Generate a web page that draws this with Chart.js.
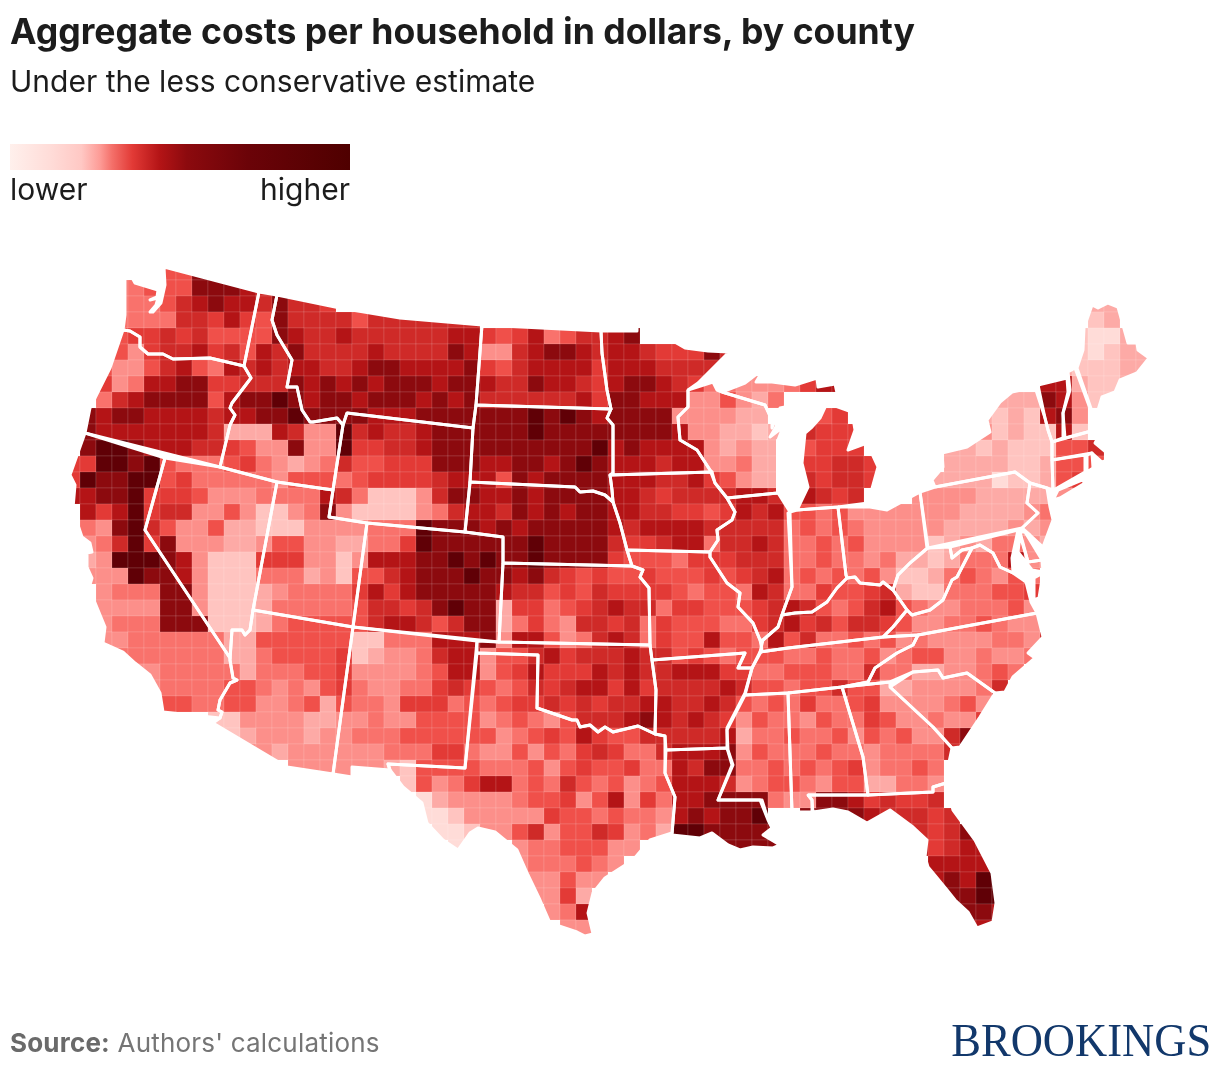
<!DOCTYPE html>
<html lang="en">
<head>
<meta charset="UTF-8">
<title>Aggregate costs per household</title>
<script src="https://cdn.jsdelivr.net/npm/chart.js@4"></script>
<style>
  html, body { margin: 0; padding: 0; background: #fff; }
  #page { position: relative; width: 1220px; height: 1072px; overflow: hidden; font-family: Inter, sans-serif; color: #1c1c1c; }
  #page div { position: absolute; white-space: nowrap; }
  canvas { position: absolute; left: 0; top: 0; }
  #title { left: 10px; top: 10px; font-size: 35.6px; line-height: 44px; font-weight: 700; }
  #subtitle { left: 10px; top: 63px; font-size: 30px; line-height: 36px; }
  #ramp { left: 10px; top: 144px; width: 340px; height: 26px;
    background: linear-gradient(to right, #fff0ec 0%, #ffdcd8 12%, #ffc8c4 21%, #fd9b96 26.5%, #f4706a 30%, #e23a36 36%, #b41416 44%, #8c0a0e 52%, #6b0308 70%, #4f0000 100%); }
  #lower { left: 10px; top: 171px; font-size: 30px; line-height: 36px; }
  #higher { right: 870px; top: 171px; font-size: 30px; line-height: 36px; }
  #source { left: 10px; top: 1026px; font-size: 26px; line-height: 34px; color: #757575; letter-spacing: .2px; }
  #source b { font-weight: 700; color: #6a6a6a; }
  #logo { right: 9px; top: 1012px; font-family: "Liberation Serif", serif; font-size: 47px; line-height: 56px; color: #12386b; transform: scaleX(.948); transform-origin: right; }
</style>
</head>
<body>
<div id="page">
  <canvas id="map" width="1220" height="1072"></canvas>
  <div id="title">Aggregate costs per household in dollars, by county</div>
  <div id="subtitle">Under the less conservative estimate</div>
  <div id="ramp"></div>
  <div id="lower">lower</div>
  <div id="higher">higher</div>
  <div id="source"><b>Source:</b> Authors' calculations</div>
  <div id="logo">BROOKINGS</div>
</div>
<script>
const washington = [125,278, 130,274, 135,283, 158,290, 157,297, 150,300, 158,298, 156,305, 150,312, 153,312, 161,303, 165,285, 164,267, 259,292, 244,366, 210,358, 173,359, 163,354, 148,354, 140,347, 140,337, 130,331, 123,330, 125,315];
const oregon = [123,330, 130,331, 140,337, 140,347, 148,354, 163,354, 173,359, 210,358, 244,366, 251,378, 232,403, 230,408, 235,415, 230,425, 220,467, 85,433, 90,408, 100,388, 110,368];
const california = [85,433, 165,458, 145,530, 230,658, 230,660, 233,678, 237,680, 230,683, 220,700, 218,710, 222,712, 220,718, 163,712, 160,693, 150,675, 135,663, 123,652, 103,643, 105,627, 98,610, 89,588, 92,578, 87,567, 87,553, 92,552, 90,543, 82,537, 77,522, 73,508, 75,485, 70,475];
const nevada = [165,458, 220,467, 277,482, 253,610, 250,630, 245,635, 242,630, 232,630, 230,658, 145,530];
const idaho = [259,292, 277,295, 272,320, 277,335, 292,360, 287,387, 297,387, 302,410, 310,422, 313,422, 337,418, 343,425, 333,490, 277,482, 220,467, 230,425, 235,415, 230,408, 232,403, 251,378, 244,366];
const montana = [277,295, 340,308, 400,318, 482,325, 476,405, 473,428, 347,413, 343,425, 337,418, 313,422, 310,422, 302,410, 297,387, 287,387, 292,360, 277,335, 272,320];
const wyoming = [347,413, 473,428, 470,482, 465,532, 367,523, 329,517, 333,490, 343,425];
const utah = [277,482, 333,490, 329,517, 367,523, 353,627, 253,610];
const colorado = [367,523, 465,532, 503,537, 503,563, 499,642, 353,627];
const arizona = [253,610, 353,627, 333,774, 287,767, 213,723, 220,718, 222,712, 218,710, 220,700, 230,683, 237,680, 233,678, 230,660, 232,630, 242,630, 245,635, 250,630];
const newMexico = [353,627, 477,641, 465,768, 388,764, 390,770, 352,767, 352,777, 333,774];
const texas = [477,653, 538,655, 537,708, 572,720, 577,720, 580,727, 590,725, 598,732, 605,727, 613,732, 638,726, 655,734, 665,736, 665,773, 675,797, 672,833, 650,840, 633,860, 605,878, 593,893, 588,913, 593,934, 585,936, 577,932, 550,923, 540,900, 528,875, 517,850, 495,832, 478,828, 470,833, 458,850, 443,840, 427,823, 422,803, 403,787, 390,770, 388,764, 465,768];
const oklahoma = [477,641, 499,642, 650,645, 652,660, 656,690, 655,734, 638,726, 613,732, 605,727, 598,732, 590,725, 580,727, 577,720, 572,720, 537,708, 538,655, 477,653];
const kansas = [503,563, 632,566, 643,570, 640,577, 649,588, 650,645, 499,642];
const nebraska = [470,482, 575,487, 580,492, 593,491, 605,495, 613,502, 620,523, 627,550, 632,566, 503,563, 503,537, 465,532];
const southDakota = [476,405, 611,409, 607,418, 613,425, 613,473, 610,475, 612,490, 613,502, 605,495, 593,491, 580,492, 575,487, 470,482, 473,428];
const northDakota = [482,325, 601,331, 602,353, 607,390, 611,409, 476,405];
const minnesota = [601,331, 636,331, 637,322, 643,323, 644,337, 660,342, 673,341, 685,348, 708,351, 729,352, 698,383, 688,390, 688,407, 678,417, 680,440, 697,450, 710,470, 712,472, 610,475, 613,473, 613,425, 607,418, 611,409, 607,390, 602,353];
const iowa = [610,475, 712,472, 715,483, 727,498, 735,512, 732,520, 717,530, 718,540, 710,552, 627,550, 620,523, 613,502, 612,490];
const missouri = [627,550, 710,552, 710,557, 727,583, 740,593, 738,607, 753,623, 760,640, 762,650, 752,668, 738,668, 745,653, 652,660, 650,645, 649,588, 640,577, 643,570, 632,566];
const arkansas = [652,660, 745,653, 738,668, 752,668, 745,693, 727,728, 727,748, 666,750, 665,736, 655,734, 656,690];
const louisiana = [666,750, 727,748, 732,765, 718,800, 760,800, 768,820, 772,828, 763,835, 780,845, 773,848, 753,847, 740,850, 728,845, 712,833, 700,838, 672,835, 675,797, 665,773];
const mississippi = [745,695, 788,693, 792,812, 767,816, 762,800, 718,800, 733,765, 728,750, 727,730];
const alabama = [788,693, 842,687, 863,757, 868,795, 808,795, 812,800, 812,812, 792,812];
const tennessee = [760,652, 788,648, 883,637, 918,635, 913,645, 897,653, 875,668, 868,682, 842,687, 788,693, 745,695, 752,668];
const kentucky = [763,640, 778,627, 782,615, 795,613, 812,612, 827,602, 837,588, 847,578, 855,577, 860,583, 880,585, 883,582, 893,590, 907,610, 893,627, 883,637, 788,648, 760,652];
const illinois = [727,498, 778,493, 790,512, 788,513, 792,587, 783,612, 778,627, 763,640, 760,640, 753,623, 738,607, 740,593, 727,583, 710,557, 710,552, 718,540, 717,530, 732,520, 735,512];
const indiana = [790,512, 797,510, 838,507, 846,575, 847,578, 837,588, 827,602, 812,612, 795,613, 782,615, 783,612, 792,587];
const ohio = [838,507, 870,507, 887,510, 920,492, 927,548, 910,563, 898,575, 893,590, 883,582, 880,585, 860,583, 855,577, 847,578, 846,575];
const michiganLower = [827,403, 852,412, 855,430, 848,450, 867,443, 878,467, 868,503, 838,507, 797,510, 808,487, 802,463, 805,433, 812,427, 820,418];
const michiganUpper = [722,392, 745,383, 758,373, 765,367, 756,382, 772,382, 795,385, 817,378, 818,387, 835,384, 837,393, 848,395, 823,398, 795,405, 780,408, 772,428, 772,420, 765,405];
const wisconsin = [688,390, 713,382, 717,390, 722,392, 765,405, 772,420, 777,425, 770,437, 783,427, 778,440, 777,490, 778,493, 727,498, 715,483, 710,470, 697,450, 680,440, 678,417, 688,407];
const georgia = [842,687, 890,682, 890,687, 933,727, 952,748, 948,767, 946,783, 933,787, 933,792, 868,795, 863,757];
const florida = [808,795, 868,795, 933,792, 933,787, 946,783, 953,810, 975,840, 992,873, 996,903, 993,922, 977,928, 968,912, 955,900, 947,890, 933,873, 928,867, 925,857, 927,840, 913,827, 890,810, 867,823, 848,812, 833,809, 813,812, 812,800];
const floridaKeys = [962,945, 973,938, 972,942];
const southCarolina = [890,687, 913,672, 938,670, 943,678, 967,673, 995,693, 980,717, 960,747, 952,748, 933,727];
const northCarolina = [868,682, 875,668, 897,653, 913,645, 918,635, 1037,613, 1043,637, 1028,653, 1035,658, 1013,677, 1005,692, 995,693, 967,673, 943,678, 938,670, 913,672, 890,682, 842,687];
const virginia = [883,637, 893,627, 907,610, 912,615, 930,610, 943,600, 952,580, 957,577, 972,548, 980,545, 993,553, 1000,567, 1013,573, 1026,582, 1031,602, 1037,613, 918,635];
const virginiaShore = [1034,578, 1043,573, 1039,598, 1034,600];
const westVirginia = [928,548, 950,547, 952,558, 962,550, 972,548, 957,577, 952,580, 943,600, 930,610, 912,615, 907,610, 893,590, 898,575, 910,563];
const pennsylvania = [920,492, 935,487, 1015,472, 1030,483, 1027,503, 1038,513, 1022,528, 928,548];
const newYork = [935,487, 932,480, 943,467, 942,453, 967,447, 990,432, 987,420, 1000,402, 1012,392, 1035,387, 1045,418, 1048,430, 1052,442, 1052,460, 1053,490, 1047,488, 1030,483, 1015,472];
const longIsland = [1053,500, 1058,490, 1082,480, 1085,483, 1060,498];
const newJersey = [1030,483, 1047,488, 1050,507, 1053,520, 1043,547, 1030,535, 1022,528, 1038,513, 1027,503];
const delaware = [1020,532, 1025,532, 1042,560, 1028,562];
const marylandWest = [950,547, 1018,530, 1012,558, 1013,573, 1000,567, 993,553, 980,545, 972,548, 962,550, 952,558];
const marylandEast = [1020,535, 1028,562, 1042,560, 1043,572, 1032,570, 1018,552];
const connecticut = [1052,460, 1085,455, 1085,472, 1057,488, 1053,490];
const rhodeIsland = [1087,455, 1092,453, 1093,468, 1087,472];
const massachusetts = [1052,442, 1095,430, 1100,434, 1095,443, 1107,453, 1119,453, 1108,460, 1102,462, 1092,453, 1052,460];
const vermont = [1038,385, 1067,378, 1068,392, 1063,413, 1063,438, 1052,442, 1048,430, 1045,418];
const newHampshire = [1068,372, 1075,368, 1095,422, 1095,430, 1065,438, 1063,413, 1070,390];
const maine = [1077,368, 1083,350, 1084,328, 1092,305, 1098,308, 1108,303, 1118,307, 1128,343, 1137,343, 1138,350, 1149,358, 1137,373, 1120,380, 1115,392, 1102,397, 1095,420];

const stateShapes = [washington, oregon, california, nevada, idaho, montana, wyoming, utah, colorado, arizona, newMexico, texas, oklahoma, kansas, nebraska, southDakota, northDakota, minnesota, iowa, missouri, arkansas, louisiana, mississippi, alabama, tennessee, kentucky, illinois, indiana, ohio, michiganLower, michiganUpper, wisconsin, georgia, florida, floridaKeys, southCarolina, northCarolina, virginia, virginiaShore, westVirginia, pennsylvania, newYork, longIsland, newJersey, delaware, marylandWest, marylandEast, connecticut, rhodeIsland, massachusetts, vermont, newHampshire, maine];

// cost level per map cell (0 lower .. a higher), one string per row
const costLevels = [
  "....  ..55  9...",
  "...4  4555  9998  79..",
  "...4  4457  8988  7977  6...  ....  ....  ....  ....  ....  ....  ....  ....  ....  ....  ....  22..",
  "...4  4447  7686  5977  7757  7777  77..  ....  ....  ....  ....  ....  ....  ....  ....  ....  12..",
  "...5  6676  7555  5987  7877  7777  8865  6845  7789  ....  ....  ....  ....  ....  ....  ...1  002.",
  "...5  3677  8675  8797  7778  7777  9833  7899  8788  7666  97..  ....  ....  ....  ....  ...1  0122",
  "..53  3578  5487  8788  7789  9888  8965  7888  8688  8777  7...  ....  ....  ....  ....  ..21  1122",
  "..63  4889  9667  7798  9898  9998  9987  7988  7689  9876  4433  3468  8...  ....  ....  .882  112.",
  "..47  8999  9589  9a98  9989  9989  8977  7777  8699  8883  3532  4...  ....  ....  ..22  2983  11..",
  ".989  9888  8788  99a9  9998  8899  9999  9a9a  9899  9933  3322  ...5  6...  ....  .212  1893  ....",
  ".988  8888  8722  2873  3a78  7789  9999  9a99  9999  9983  3221  2.76  66..  ....  .312  1181  ....",
  ".9aa  9888  7765  3393  3a66  7789  9999  9999  9a89  8888  3232  2.56  66..  ...2  2121  1155  7...",
  "66aa  9a54  4456  4323  4755  6669  9988  9989  a988  8788  3342  2.66  776.  ...2  2221  1255  5...",
  "6a99  aa56  4444  4355  5456  6667  8885  9899  9988  8778  6532  2.76  776.  ..22  2201  1256  5...",
  "8899  a666  5333  4444  8741  1137  9988  9899  9988  7677  7788  7.87  67..  .333  3222  2233  ....",
  ".868  a677  3353  1134  9311  1134  7887  9898  9988  7766  5687  8554  5333  3333  2222  34..  ....",
  ".439  a753  3522  1113  3334  44a9  9989  8999  9987  8888  7777  7454  5433  3332  2223  23..  ....",
  ".347  a693  3322  3553  3224  46a9  9999  9a99  9976  6788  4778  7445  4533  3312  3244  32..  ....",
  ".23a  aa98  3111  6663  3138  8899  a9a9  9a99  9965  5546  6677  7445  4434  2212  4448  32..  ....",
  ".333  a998  3111  4442  3155  7899  9a99  8976  5655  6555  6567  8454  5453  1124  5435  4...  ....",
  "..34  4499  3111  2344  4468  6899  9998  7756  5766  6654  5548  7446  5567  2114  4455  6...  ....",
  "..33  3399  3111  2444  4457  7679  a992  6645  6787  7466  5556  7875  4578  5433  4445  3...  ....",
  "..34  4499  9111  2455  5557  8875  7992  4643  7767  4655  5446  7867  5776  5334  4543  3...  ....",
  "..33  4444  4422  5555  5511  4448  8893  8853  4787  4655  8554  8574  4545  3433  3344  37..  ....",
  "...4  4444  4422  4555  5612  3347  8835  5786  7778  7756  5455  5445  4453  4553  3433  4...  ....",
  "....  3344  4442  4445  5633  3345  8835  6866  6878  7788  8664  4555  4474  4223  3454  ....  ....",
  "....  .344  4455  4343  5643  3446  7654  5767  8868  6777  7875  5455  7552  2333  347.  ....  ....",
  "....  ..55  4455  3345  2544  3666  4545  6676  7677  8877  8754  5464  4563  3334  538.  ....  ....",
  "....  ....  .113  3332  2334  3355  5534  5435  7778  9878  7635  4435  4465  3343  36..  ....  ....",
  "....  ....  ..12  3332  3344  4555  5553  4565  8655  7777  7824  4544  5354  5337  9...  ....  ....",
  "....  ....  ...3  3233  3333  4446  6433  5354  6764  4788  8935  4445  4434  4447  ....  ....  ....",
  "....  ....  ....  ..33  3333  2155  5544  4535  6556  4487  9944  5454  5634  454.  ....  ....  ....",
  "....  ....  ....  ....  ....  .153  4688  4547  5453  4588  8734  5543  5522  443.  ....  ....  ....",
  "....  ....  ....  ....  ....  ..02  3333  4556  3583  6488  9999  4339  9867  667.  ....  ....  ....",
  "....  ....  ....  ....  ....  ..00  1333  3365  5454  4389  899a  ..99  9987  7767  ....  ....  ....",
  "....  ....  ....  ....  ....  ...0  0133  5735  5763  42aa  9999  9...  ....  8767  9...  ....  ....",
  "....  ....  ....  ....  ....  ....  0...  3445  5533  ....  .999  9...  ....  .867  889.  ....  ....",
  "....  ....  ....  ....  ....  ....  ....  3444  543.  ....  ....  ....  ....  ..88  888.  ....  ....",
  "....  ....  ....  ....  ....  ....  ....  .335  33..  ....  ....  ....  ....  ..89  8aa.  ....  ....",
  "....  ....  ....  ....  ....  ....  ....  .336  2...  ....  ....  ....  ....  ...9  9aa.  ....  ....",
  "....  ....  ....  ....  ....  ....  ....  ..34  8...  ....  ....  ....  ....  ....  998.  ....  ....",
  "....  ....  ....  ....  ....  ....  ....  ...3  3...  ....  ....  ....  ....  ....  88..  ....  ....",
  "....  ....  ....  ....  ....  ....  ....  ....  ....  ....  ....  ....  ....  ....  9...  ....  ...."
];

const levelColors = ['#ffdcd8', '#ffc4c0', '#fdaaa6', '#fc8f8a', '#f9726c', '#f0504a', '#e33a36', '#cf2a28', '#b41416', '#8c0a0e', '#600006'];

const CELL = 16, GRID_X = 64, GRID_Y = 264;

const cells = [];
costLevels.forEach((row, r) => {
  row.replace(/ /g, '').split('').forEach((c, i) => {
    if (c === '.') return;
    cells.push({ x: GRID_X + CELL * i + CELL / 2, y: GRID_Y + CELL * r + CELL / 2, level: parseInt(c, 11) });
  });
});

function toPoints(shape) {
  const pts = [];
  for (let i = 0; i < shape.length; i += 2) pts.push({ x: shape[i], y: shape[i + 1] });
  pts.push({ x: shape[0], y: shape[1] });
  return pts;
}

// keep the cells inside the land outline
const clipToLand = {
  id: 'clipToLand',
  beforeDatasetDraw(chart, args) {
    if (args.index !== 0) return;
    const { ctx, scales: { x, y } } = chart;
    ctx.save();
    ctx.beginPath();
    stateShapes.forEach(shape => {
      toPoints(shape).forEach((p, i) => {
        const px = x.getPixelForValue(p.x), py = y.getPixelForValue(p.y);
        if (i === 0) ctx.moveTo(px, py); else ctx.lineTo(px, py);
      });
      ctx.closePath();
    });
    ctx.clip();
  },
  afterDatasetDraw(chart, args) {
    if (args.index === 0) chart.ctx.restore();
  }
};

const datasets = [{
  data: cells,
  order: 2,
  showLine: false,
  pointStyle: 'rect',
  pointRadius: CELL / Math.SQRT2,
  pointBorderWidth: 0.6,
  pointBorderColor: 'rgba(255,255,255,0.2)',
  pointBackgroundColor: ctx => levelColors[ctx.raw.level]
}];
stateShapes.forEach(shape => {
  datasets.push({
    data: toPoints(shape),
    order: 1,
    showLine: true,
    tension: 0,
    fill: false,
    pointRadius: 0,
    borderColor: '#fff',
    borderWidth: 3,
    borderJoinStyle: 'round'
  });
});

new Chart(document.getElementById('map'), {
  type: 'scatter',
  data: { datasets },
  options: {
    responsive: false,
    animation: false,
    layout: { padding: 0, autoPadding: false },
    plugins: { legend: { display: false }, tooltip: { enabled: false } },
    scales: {
      x: { type: 'linear', min: 0, max: 1220, display: false },
      y: { type: 'linear', min: 0, max: 1072, reverse: true, display: false }
    }
  },
  plugins: [clipToLand]
});
</script>
</body>
</html>
